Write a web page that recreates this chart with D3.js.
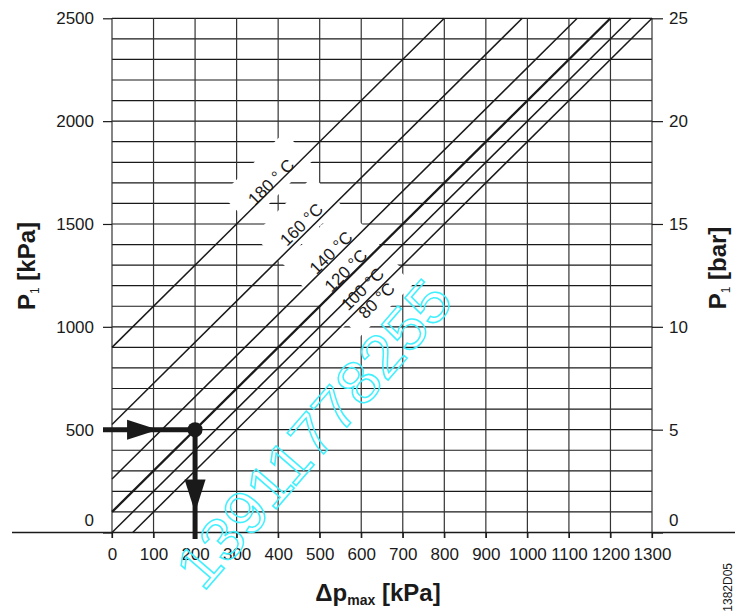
<!DOCTYPE html>
<html><head><meta charset="utf-8">
<script src="https://cdn.jsdelivr.net/npm/d3@7"></script>
<style>
body{margin:0;background:#fff}
svg{display:block}
text{font-family:"Liberation Sans",Arial,Helvetica,sans-serif}
</style>
</head><body>
<svg id="c" width="735" height="611"></svg>
<script>
// ---- data ----
const dpTicks = [0,100,200,300,400,500,600,700,800,900,1000,1100,1200,1300];
const p1KpaTicks = [0,500,1000,1500,2000,2500];
const p1BarTicks = [0,5,10,15,20,25];
const p1Grid = [100,200,300,400,500,600,700,800,900,1000,1100,1200,1300,1400,1500,1600,1700,1800,1900,2000,2100,2200,2300,2400,2500];
const tempLabels = ["180 ° C","160 °C","140 °C","120 °C","100 °C","80 °C"];
const lineStartDp = [0,0,0,0,0,50];
const lineStartP1 = [900,525,260,100,0,0];
const lineEndDp = [800,987.5,1120,1200,1250,1300];
const lineEndP1 = [2500,2500,2500,2500,2500,2500];
const labelDp = [383,456,527,563,603,637];
const labelP1 = [1704,1498,1361,1274,1184,1128];
const exampleDp = 200;
const exampleP1 = 500;

// ---- scales ----
const svg = d3.select("#c");
const x = d3.scaleLinear().domain([0,1300]).range([112,652]);
const y = d3.scaleLinear().domain([0,2500]).range([532.5,18.3]);
const yBar = d3.scaleLinear().domain([0,25]).range([532.5,18.3]);
const ink = "#1a1a1a";
const fmt = d3.format("d");

// ---- grid ----
const g = svg.append("g");
g.selectAll("line.h").data(p1Grid).join("line")
  .attr("x1", x(0)).attr("x2", x(1300))
  .attr("y1", d=>y(d)).attr("y2", d=>y(d))
  .attr("stroke", ink).attr("stroke-width", 1.2);
g.selectAll("line.v").data(dpTicks).join("line")
  .attr("x1", d=>x(d)).attr("x2", d=>x(d))
  .attr("y1", y(2500)).attr("y2", y(0)+5.5)
  .attr("stroke", "#333").attr("stroke-width", 1.2);

// ---- axes ----
const fs = 17;
const leftAx = svg.append("g").attr("transform",`translate(${x(0)},0)`)
  .call(d3.axisLeft(y).tickValues(p1KpaTicks).tickFormat(fmt).tickSize(9).tickPadding(9));
const rightAx = svg.append("g").attr("transform",`translate(${x(1300)},0)`)
  .call(d3.axisRight(yBar).tickValues(p1BarTicks).tickFormat(fmt).tickSize(11).tickPadding(6));
const botAx = svg.append("g").attr("transform",`translate(0,${y(0)})`)
  .call(d3.axisBottom(x).tickValues(dpTicks).tickFormat(fmt).tickSize(5.5).tickPadding(10));
[leftAx,rightAx,botAx].forEach(a=>{
  a.select(".domain").remove();
  a.selectAll(".tick line").attr("stroke", ink).attr("stroke-width",1.2);
  a.selectAll(".tick text").attr("font-size",fs).attr("fill",ink)
    .attr("font-family",'"Liberation Sans",Arial,sans-serif');
});
leftAx.selectAll(".tick").filter(d=>d===0).select("text").attr("dy","-0.42em");
rightAx.selectAll(".tick").filter(d=>d===0).select("text").attr("dy","-0.42em");
svg.append("line").attr("x1",12).attr("x2",735).attr("y1",y(0)).attr("y2",y(0))
  .attr("stroke",ink).attr("stroke-width",1.3);

// ---- label background patches + temperature lines ----
const ang = Math.atan2(y(2500)-y(900), x(800)-x(0))*180/Math.PI;
const labG = svg.append("g");
const lineG = svg.append("g");
const txtG = svg.append("g");
tempLabels.forEach((lab,i)=>{
  const px = x(labelDp[i]), py = y(labelP1[i]);
  const tg = txtG.append("g").attr("transform",`translate(${px},${py}) rotate(${ang})`);
  const tx = tg.append("text").attr("x",0).attr("y",0).attr("dy","0.35em")
    .attr("text-anchor","middle").attr("font-size",fs).attr("fill",ink).text(lab);
  const w = tx.node().getComputedTextLength();
  labG.append("rect").attr("transform",`translate(${px},${py}) rotate(${ang})`)
    .attr("x",-w/2-16).attr("y",-26).attr("width",w+32).attr("height",40)
    .attr("fill","#fff");
  lineG.append("line")
    .attr("x1",x(lineStartDp[i])).attr("y1",y(lineStartP1[i]))
    .attr("x2",x(lineEndDp[i])).attr("y2",y(lineEndP1[i]))
    .attr("stroke",ink).attr("stroke-width", i===3 ? 2.3 : 1.5);
});

// ---- worked example arrows ----
const ex = svg.append("g").attr("fill","#1a1a1a").attr("stroke","none");
const ex0 = x(exampleDp), ey0 = y(exampleP1);
ex.append("line").attr("x1",103).attr("x2",ex0).attr("y1",ey0).attr("y2",ey0)
  .attr("stroke","#1a1a1a").attr("stroke-width",5);
ex.append("path").attr("d",`M${ex0-37},${ey0} l-31,-10 l0,20 z`);
ex.append("line").attr("x1",ex0).attr("x2",ex0).attr("y1",ey0).attr("y2",y(0)+6.5)
  .attr("stroke","#1a1a1a").attr("stroke-width",5);
ex.append("path").attr("d",`M${ex0},${y(0)-20} l-10.5,-33 l21,0 z`);
ex.append("circle").attr("cx",ex0).attr("cy",ey0).attr("r",7.5);

// ---- titles ----
const lt = svg.append("text").attr("transform","translate(35,266) rotate(-90)")
  .attr("text-anchor","middle").attr("font-size",24).attr("font-weight","bold").attr("fill",ink);
lt.append("tspan").text("P");
lt.append("tspan").attr("font-size",12).attr("font-weight","normal").attr("dy",4).text("1");
lt.append("tspan").attr("dy",-4).text(" [kPa]");
const rt = svg.append("text").attr("transform","translate(726,268) rotate(-90)")
  .attr("text-anchor","middle").attr("font-size",24).attr("font-weight","bold").attr("fill",ink);
rt.append("tspan").text("P");
rt.append("tspan").attr("font-size",12).attr("font-weight","normal").attr("dy",4).text("1");
rt.append("tspan").attr("dy",-4).text(" [bar]");
const bt = svg.append("text").attr("x",378).attr("y",601)
  .attr("text-anchor","middle").attr("font-size",24).attr("font-weight","bold").attr("fill",ink);
bt.append("tspan").text("Δp");
bt.append("tspan").attr("font-size",14).attr("dy",4).text("max");
bt.append("tspan").attr("dy",-4).text(" [kPa]");
svg.append("text").attr("transform","translate(732,563) rotate(-90)")
  .attr("text-anchor","end").attr("font-size",12).attr("fill",ink).text("1382D05");

// ---- watermark ----
svg.append("text").attr("transform","translate(314,434) rotate(-49)")
  .attr("text-anchor","middle").attr("dominant-baseline","central")
  .attr("font-size",60).attr("textLength",385).attr("lengthAdjust","spacingAndGlyphs")
  .attr("fill","none").attr("stroke","#40f0ff").attr("stroke-width",1.5)
  .text("13911778255");
</script>
</body></html>
